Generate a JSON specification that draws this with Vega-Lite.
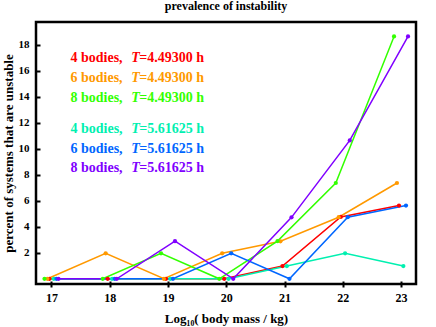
{
  "$schema": "https://vega.github.io/schema/vega-lite/v6.json",
  "width": 380,
  "height": 262,
  "autosize": "none",
  "padding": {"left": 36, "top": 22, "right": 20, "bottom": 43},
  "background": "white",
  "title": {"text": "prevalence of instability", "font": "Liberation Serif", "fontSize": 12, "fontWeight": "bold", "color": "black", "offset": 9, "anchor": "middle"},
  "config": {
    "view": {"stroke": "black", "strokeWidth": 2.5},
    "axis": {"grid": false, "domain": false, "tickColor": "black", "tickWidth": 2, "labelColor": "black", "titleColor": "black", "labelFont": "Liberation Serif", "labelFontWeight": "bold", "titleFont": "Liberation Serif", "titleFontWeight": "bold", "titleFontSize": 13}
  },
  "datasets": {
    "series": [
      {"series": "4 bodies, T=4.49300 h", "mass": 16.965, "pct": 0},
      {"series": "4 bodies, T=4.49300 h", "mass": 17.965, "pct": 0},
      {"series": "4 bodies, T=4.49300 h", "mass": 18.965, "pct": 0},
      {"series": "4 bodies, T=4.49300 h", "mass": 19.965, "pct": 0},
      {"series": "4 bodies, T=4.49300 h", "mass": 20.965, "pct": 0.98},
      {"series": "4 bodies, T=4.49300 h", "mass": 21.965, "pct": 4.75},
      {"series": "4 bodies, T=4.49300 h", "mass": 22.965, "pct": 5.63},
      {"series": "6 bodies, T=4.49300 h", "mass": 16.93, "pct": 0},
      {"series": "6 bodies, T=4.49300 h", "mass": 17.93, "pct": 1.96},
      {"series": "6 bodies, T=4.49300 h", "mass": 18.93, "pct": 0},
      {"series": "6 bodies, T=4.49300 h", "mass": 19.93, "pct": 1.96},
      {"series": "6 bodies, T=4.49300 h", "mass": 20.93, "pct": 2.88},
      {"series": "6 bodies, T=4.49300 h", "mass": 21.93, "pct": 4.73},
      {"series": "6 bodies, T=4.49300 h", "mass": 22.93, "pct": 7.36},
      {"series": "8 bodies, T=4.49300 h", "mass": 16.88, "pct": 0},
      {"series": "8 bodies, T=4.49300 h", "mass": 17.88, "pct": 0},
      {"series": "8 bodies, T=4.49300 h", "mass": 18.88, "pct": 1.96},
      {"series": "8 bodies, T=4.49300 h", "mass": 19.88, "pct": 0},
      {"series": "8 bodies, T=4.49300 h", "mass": 20.88, "pct": 2.9},
      {"series": "8 bodies, T=4.49300 h", "mass": 21.88, "pct": 7.36},
      {"series": "8 bodies, T=4.49300 h", "mass": 22.88, "pct": 18.62},
      {"series": "4 bodies, T=5.61625 h", "mass": 17.04, "pct": 0},
      {"series": "4 bodies, T=5.61625 h", "mass": 18.04, "pct": 0},
      {"series": "4 bodies, T=5.61625 h", "mass": 19.04, "pct": 0},
      {"series": "4 bodies, T=5.61625 h", "mass": 20.04, "pct": 0},
      {"series": "4 bodies, T=5.61625 h", "mass": 21.04, "pct": 0.98},
      {"series": "4 bodies, T=5.61625 h", "mass": 22.04, "pct": 1.96},
      {"series": "4 bodies, T=5.61625 h", "mass": 23.04, "pct": 0.98},
      {"series": "6 bodies, T=5.61625 h", "mass": 17.085, "pct": 0},
      {"series": "6 bodies, T=5.61625 h", "mass": 18.085, "pct": 0},
      {"series": "6 bodies, T=5.61625 h", "mass": 19.085, "pct": 0},
      {"series": "6 bodies, T=5.61625 h", "mass": 20.085, "pct": 1.96},
      {"series": "6 bodies, T=5.61625 h", "mass": 21.085, "pct": 0},
      {"series": "6 bodies, T=5.61625 h", "mass": 22.085, "pct": 4.73},
      {"series": "6 bodies, T=5.61625 h", "mass": 23.085, "pct": 5.63},
      {"series": "8 bodies, T=5.61625 h", "mass": 17.12, "pct": 0},
      {"series": "8 bodies, T=5.61625 h", "mass": 18.12, "pct": 0},
      {"series": "8 bodies, T=5.61625 h", "mass": 19.12, "pct": 2.89},
      {"series": "8 bodies, T=5.61625 h", "mass": 20.12, "pct": 0},
      {"series": "8 bodies, T=5.61625 h", "mass": 21.12, "pct": 4.72},
      {"series": "8 bodies, T=5.61625 h", "mass": 22.12, "pct": 10.63},
      {"series": "8 bodies, T=5.61625 h", "mass": 23.12, "pct": 18.62}
    ],
    "legend": [
      {"series": "4 bodies, T=4.49300 h", "part": "a", "label": "4 bodies,", "mass": 17.326, "pct": 16.63},
      {"series": "4 bodies, T=4.49300 h", "part": "t", "label": "T", "mass": 18.37, "pct": 16.63},
      {"series": "4 bodies, T=4.49300 h", "part": "c", "label": "=4.49300 h", "mass": 18.505, "pct": 16.63},
      {"series": "6 bodies, T=4.49300 h", "part": "a", "label": "6 bodies,", "mass": 17.326, "pct": 15.10},
      {"series": "6 bodies, T=4.49300 h", "part": "t", "label": "T", "mass": 18.37, "pct": 15.10},
      {"series": "6 bodies, T=4.49300 h", "part": "c", "label": "=4.49300 h", "mass": 18.505, "pct": 15.10},
      {"series": "8 bodies, T=4.49300 h", "part": "a", "label": "8 bodies,", "mass": 17.326, "pct": 13.61},
      {"series": "8 bodies, T=4.49300 h", "part": "t", "label": "T", "mass": 18.37, "pct": 13.61},
      {"series": "8 bodies, T=4.49300 h", "part": "c", "label": "=4.49300 h", "mass": 18.505, "pct": 13.61},
      {"series": "4 bodies, T=5.61625 h", "part": "a", "label": "4 bodies,", "mass": 17.326, "pct": 11.17},
      {"series": "4 bodies, T=5.61625 h", "part": "t", "label": "T", "mass": 18.37, "pct": 11.17},
      {"series": "4 bodies, T=5.61625 h", "part": "c", "label": "=5.61625 h", "mass": 18.505, "pct": 11.17},
      {"series": "6 bodies, T=5.61625 h", "part": "a", "label": "6 bodies,", "mass": 17.326, "pct": 9.67},
      {"series": "6 bodies, T=5.61625 h", "part": "t", "label": "T", "mass": 18.37, "pct": 9.67},
      {"series": "6 bodies, T=5.61625 h", "part": "c", "label": "=5.61625 h", "mass": 18.505, "pct": 9.67},
      {"series": "8 bodies, T=5.61625 h", "part": "a", "label": "8 bodies,", "mass": 17.326, "pct": 8.18},
      {"series": "8 bodies, T=5.61625 h", "part": "t", "label": "T", "mass": 18.37, "pct": 8.18},
      {"series": "8 bodies, T=5.61625 h", "part": "c", "label": "=5.61625 h", "mass": 18.505, "pct": 8.18}
    ]
  },
  "encoding": {
    "x": {"field": "mass", "type": "quantitative", "scale": {"domain": [16.734, 23.257], "nice": false, "zero": false},
      "axis": {"title": "Log₁₀( body mass / kg)", "values": [17, 18, 19, 20, 21, 22, 23], "format": "d", "tickSize": 6, "offset": -3, "labelPadding": 5, "labelFontSize": 12, "titlePadding": 9}},
    "y": {"field": "pct", "type": "quantitative", "scale": {"domain": [-0.4, 19.73], "nice": false, "zero": false},
      "axis": {"title": "percent of systems that are unstable", "values": [2, 4, 6, 8, 10, 12, 14, 16, 18], "format": "d", "tickSize": 4, "offset": -4, "labelPadding": 7, "labelFontSize": 11, "titlePadding": 3}},
    "color": {"field": "series", "type": "nominal",
      "scale": {"domain": ["4 bodies, T=4.49300 h", "6 bodies, T=4.49300 h", "8 bodies, T=4.49300 h", "4 bodies, T=5.61625 h", "6 bodies, T=5.61625 h", "8 bodies, T=5.61625 h"],
        "range": ["#ff0000", "#ff9900", "#33ff00", "#00f0b0", "#0066ff", "#8000ff"]},
      "legend": null}
  },
  "layer": [
    {"data": {"name": "series"}, "mark": {"type": "line", "strokeWidth": 1.5}},
    {"data": {"name": "series"}, "mark": {"type": "point", "filled": true, "size": 18, "opacity": 1}},
    {"data": {"name": "legend"}, "transform": [{"filter": "datum.part != 't'"}],
      "mark": {"type": "text", "align": "left", "baseline": "alphabetic", "font": "Liberation Serif", "fontWeight": "bold", "fontSize": 14},
      "encoding": {"text": {"field": "label"}}},
    {"data": {"name": "legend"}, "transform": [{"filter": "datum.part == 't'"}],
      "mark": {"type": "text", "align": "left", "baseline": "alphabetic", "font": "Liberation Serif", "fontWeight": "bold", "fontStyle": "italic", "fontSize": 14},
      "encoding": {"text": {"field": "label"}}}
  ]
}
